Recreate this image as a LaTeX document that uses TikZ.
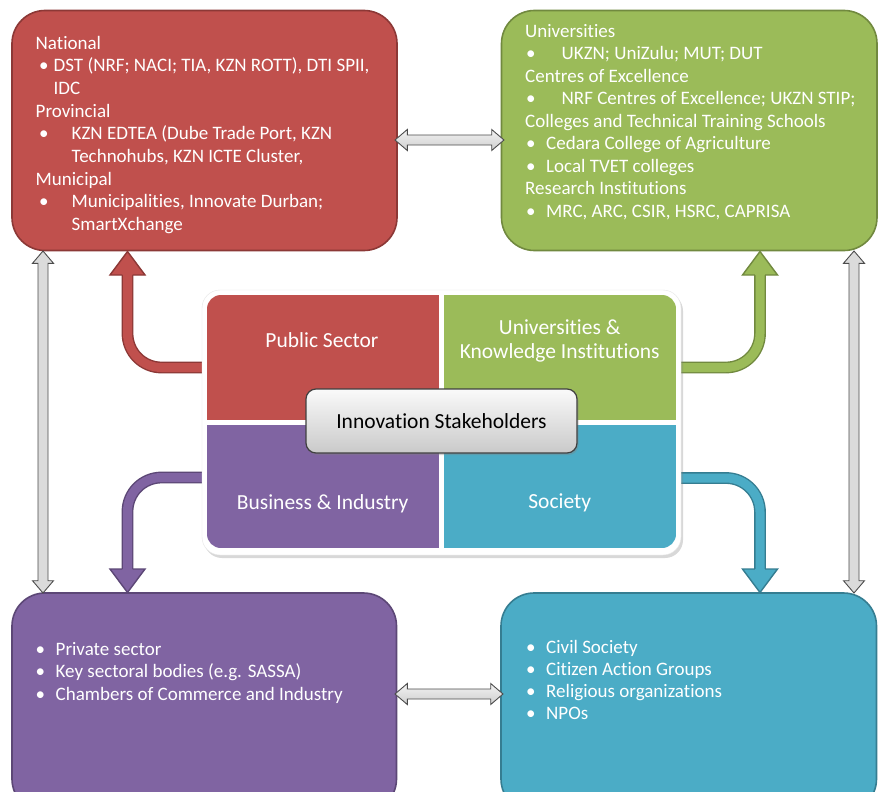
\documentclass[tikz,border=0pt]{standalone}
\usepackage{fontspec}
\setmainfont{Carlito}[Ligatures={NoCommon}]
\usetikzlibrary{calc,shadows}
\definecolor{redc}{HTML}{C0504D}
\definecolor{redb}{HTML}{8C3836}
\definecolor{greenc}{HTML}{9BBB59}
\definecolor{greenb}{HTML}{71893F}
\definecolor{purplec}{HTML}{8064A2}
\definecolor{purpleb}{HTML}{5C4776}
\definecolor{tealc}{HTML}{4BACC6}
\definecolor{tealb}{HTML}{357D91}
\newcommand{\bulmark}[2]{\hspace*{#1}\makebox[#2][l]{•}}
\begin{document}
\begin{tikzpicture}[x=1pt,y=-1pt,
  bigbox/.style={rounded corners=33pt, line width=1.6pt, inner sep=0pt},
  boxtext/.style={anchor=base west, inner sep=0pt, text=white},
  bendarrow/.style={line width=1.4pt, double distance=9pt, rounded corners=34pt},
  headstyle/.style={line width=1.4pt, line join=miter},
  grayarrow/.style={draw=black!70, line width=0.9pt, line join=miter},
  quadlabel/.style={anchor=base, inner sep=0pt, text=white, font=\fontsize{21.5}{24}\selectfont},
]
\useasboundingbox (0,0) rectangle (878,792);
\clip (0,0) rectangle (878,792);
\fill[white] (0,0) rectangle (878,792);

% outer boxes
\node[bigbox, fill=redc, draw=redb, minimum width=385pt, minimum height=240pt] (pubbox) at (204.5,130.5) {};
\node[bigbox, fill=greenc, draw=greenb, minimum width=375.5pt, minimum height=240pt] (unibox) at (689.25,130.5) {};
\node[bigbox, fill=purplec, draw=purpleb, minimum width=384.5pt, minimum height=219pt] (busbox) at (204.25,702.5) {};
\node[bigbox, fill=tealc, draw=tealb, minimum width=375.5pt, minimum height=219pt] (socbox) at (688.75,702.5) {};

% box texts
\node[boxtext] (pubtxt) at (35.5,49) {\parbox[t]{350pt}{\fontsize{19}{22.7}\selectfont
National\\
\bulmark{3.5pt}{14.5pt}DST (NRF; NACI; TIA, KZN ROTT), DTI SPII,\\
\hspace*{18pt}IDC\\
Provincial\\
\bulmark{3.5pt}{32.5pt}KZN EDTEA (Dube Trade Port, KZN\\
\hspace*{36pt}Technohubs, KZN ICTE Cluster,\\
Municipal\\
\bulmark{3.5pt}{32.5pt}Municipalities, Innovate Durban;\\
\hspace*{36pt}SmartXchange}};

\node[boxtext] (unitxt) at (525,37.5) {\parbox[t]{350pt}{\fontsize{19}{22.5}\selectfont
Universities\\
\bulmark{1pt}{35.5pt}UKZN; UniZulu; MUT; DUT\\
Centres of Excellence\\
\bulmark{1pt}{35.5pt}NRF Centres of Excellence; UKZN STIP;\\
Colleges and Technical Training Schools\\
\bulmark{1pt}{20pt}Cedara College of Agriculture\\
\bulmark{1pt}{20pt}Local TVET colleges\\
Research Institutions\\
\bulmark{1pt}{20pt}MRC, ARC, CSIR, HSRC, CAPRISA}};

\node[boxtext] (bustxt) at (35.5,655) {\parbox[t]{350pt}{\fontsize{19}{22.7}\selectfont
\bulmark{0pt}{20pt}Private sector\\
\bulmark{0pt}{20pt}Key sectoral bodies (e.g. SASSA)\\
\bulmark{0pt}{20pt}Chambers of Commerce and Industry}};

\node[boxtext] (soctxt) at (525,653) {\parbox[t]{350pt}{\fontsize{19}{22.3}\selectfont
\bulmark{1pt}{20pt}Civil Society\\
\bulmark{1pt}{20pt}Citizen Action Groups\\
\bulmark{1pt}{20pt}Religious organizations\\
\bulmark{1pt}{20pt}NPOs}};

% gray double arrows
\coordinate (ga1) at (395,140);
\coordinate (gb1) at (504,140);
\shadedraw[grayarrow, top color=gray!10, bottom color=gray!38]
  (ga1) -- ++(12.3,-10.5) -- ++(0,5.5) -- ++(84.4,0) -- ++(0,-5.5) -- (gb1)
  -- ++(-12.3,10.5) -- ++(0,-5.5) -- ++(-84.4,0) -- ++(0,5.5) -- cycle;
\coordinate (ga2) at (395,694);
\coordinate (gb2) at (503,694);
\shadedraw[grayarrow, top color=gray!10, bottom color=gray!38]
  (ga2) -- ++(12.3,-10.5) -- ++(0,5.5) -- ++(83.4,0) -- ++(0,-5.5) -- (gb2)
  -- ++(-12.3,10.5) -- ++(0,-5.5) -- ++(-83.4,0) -- ++(0,5.5) -- cycle;
\coordinate (gl1) at (43,251);
\coordinate (gl2) at (43,593);
\filldraw[grayarrow, fill=gray!28]
  (gl1) -- ++(10.5,12.3) -- ++(-5.5,0) -- ++(0,317.4) -- ++(5.5,0) -- (gl2)
  -- ++(-10.5,-12.3) -- ++(5.5,0) -- ++(0,-317.4) -- ++(-5.5,0) -- cycle;
\coordinate (gr1) at (854,251);
\coordinate (gr2) at (854,593);
\filldraw[grayarrow, fill=gray!28]
  (gr1) -- ++(10.5,12.3) -- ++(-5.5,0) -- ++(0,317.4) -- ++(5.5,0) -- (gr2)
  -- ++(-10.5,-12.3) -- ++(5.5,0) -- ++(0,-317.4) -- ++(-5.5,0) -- cycle;

% bent arrows
\coordinate (psA) at (215,367.5);
\coordinate (psT) at (127.5,251.5);
\draw[bendarrow, draw=redb, double=redc] (psA) -| ($(psT)+(0,22)$);
\filldraw[headstyle, fill=redc, draw=redb] ($(psT)+(-5.2,23.5)$) -- ++(-12.3,0) -- (psT) -- ++(17.5,23.5) -- ++(-12.3,0);

\coordinate (ukA) at (670,367.5);
\coordinate (ukT) at (760,251.5);
\draw[bendarrow, draw=greenb, double=greenc] (ukA) -| ($(ukT)+(0,22)$);
\filldraw[headstyle, fill=greenc, draw=greenb] ($(ukT)+(-5.2,23.5)$) -- ++(-12.3,0) -- (ukT) -- ++(17.5,23.5) -- ++(-12.3,0);

\coordinate (baA) at (215,477.5);
\coordinate (baT) at (127.5,592.5);
\draw[bendarrow, draw=purpleb, double=purplec] (baA) -| ($(baT)+(0,-22)$);
\filldraw[headstyle, fill=purplec, draw=purpleb] ($(baT)+(-5.2,-23.5)$) -- ++(-12.3,0) -- (baT) -- ++(17.5,-23.5) -- ++(-12.3,0);

\coordinate (soA) at (670,478);
\coordinate (soT) at (760,592.5);
\draw[bendarrow, draw=tealb, double=tealc] (soA) -| ($(soT)+(0,-22)$);
\filldraw[headstyle, fill=tealc, draw=tealb] ($(soT)+(-5.2,-23.5)$) -- ++(-12.3,0) -- (soT) -- ++(17.5,-23.5) -- ++(-12.3,0);

% central frame
\node[fill=white, draw=gray!20, rounded corners=18pt, minimum width=479pt, minimum height=265pt,
  drop shadow={opacity=0.3, shadow xshift=2pt, shadow yshift=-3pt}] (frame) at (441.5,422.5) {};
\begin{scope}
  \clip[rounded corners=14pt] (207,295) rectangle (676,548);
  \fill[redc] (207,295) rectangle (441,422);
  \fill[greenc] (441,295) rectangle (676,422);
  \fill[purplec] (207,422) rectangle (441,548);
  \fill[tealc] (441,422) rectangle (676,548);
\end{scope}
\draw[white, line width=5pt] (441,294) -- (441,549);
\draw[white, line width=5pt] (206,422) -- (677,422);

\node[quadlabel] (pslab) at (322,347.3) {Public Sector};
\node[quadlabel] (uklab) at (559.7,334) {\parbox[t]{260pt}{\centering\fontsize{21.5}{24}\selectfont Universities \&\\Knowledge Institutions}};
\node[quadlabel] (bilab) at (322.7,509) {Business \& Industry};
\node[quadlabel] (solab) at (559.7,508) {Society};

\node[draw=black!75, line width=1.2pt, rounded corners=10pt, top color=gray!4, bottom color=gray!42,
  minimum width=271pt, minimum height=64pt, inner sep=0pt, font=\fontsize{21.5}{24}\selectfont,
  drop shadow={opacity=0.35, shadow xshift=1.5pt, shadow yshift=-2pt}] (inno) at (441.5,421) {Innovation Stakeholders};
\end{tikzpicture}
\end{document}
